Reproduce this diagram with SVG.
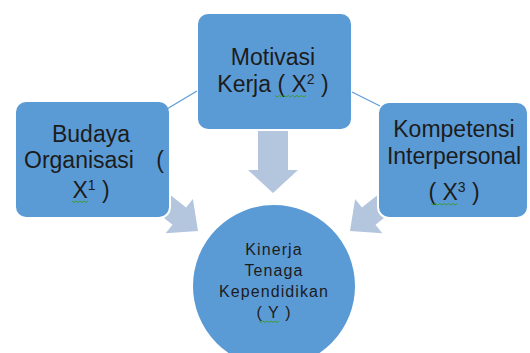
<svg xmlns="http://www.w3.org/2000/svg" width="530" height="353" viewBox="0 0 530 353">
<defs>
<style>
.box{fill:#5b9bd5;stroke:#ffffff;stroke-width:2}
.arrow{fill:#b4c5de}
.link{stroke:#5b9bd5;stroke-width:1.2;fill:none}
.t{font-family:"Liberation Sans",Arial,sans-serif;font-size:23px;fill:#1c1c1c;text-anchor:middle}
.tc{font-family:"Liberation Sans",Arial,sans-serif;font-size:16px;fill:#1c1c1c;text-anchor:middle;letter-spacing:1.1px}
.sup{font-size:14px}
.sq{stroke:#3d9b35;stroke-width:1;fill:none}
</style>
</defs>
<rect width="530" height="353" fill="#ffffff"/>
<g id="arrows">
<polygon class="arrow" points="139.3,170.3 186.1,207.5 192.9,198.9 198,231 165.7,233.3 172.5,224.7 125.7,187.5"/>
<polygon class="arrow" points="408.7,170.3 361.9,207.5 355.1,198.9 350,231 382.3,233.3 375.5,224.7 422.3,187.5"/>
<polygon class="arrow" points="258,120 288,120 288,170 298,170 273,193 248,170 258,170"/>
</g>
<g id="budaya">
<rect class="box" x="15" y="101" width="155" height="117" rx="11"/>
<text class="t" x="91" y="142">Budaya</text>
<text class="t"><tspan x="79" y="168">Organisasi</tspan><tspan x="160" y="168">(</tspan></text>
<text class="t" x="91" y="198">X<tspan class="sup" dy="-8">1</tspan><tspan dy="8"> )</tspan></text>
<path class="sq" d="M72,201 l2,1.5 l2,-1.5 l2,1.5 l2,-1.5 l2,1.5 l2,-1.5 l2,1.5 l2,-1.5"/>
</g>
<g id="motivasi">
<rect class="box" x="197" y="13" width="155" height="117" rx="11"/>
<text class="t" x="273" y="65">Motivasi</text>
<text class="t" x="273" y="92">Kerja ( X<tspan class="sup" dy="-8">2</tspan><tspan dy="8"> )</tspan></text>
<path class="sq" d="M275,95.5 l2.2,1.5 l2.2,-1.5 l2.2,1.5 l2.2,-1.5 l2.2,1.5 l2.2,-1.5 l2.2,1.5 l2.2,-1.5 l2.2,1.5 l2.2,-1.5 l2.2,1.5 l2.2,-1.5 l2.2,1.5 l2.2,-1.5"/>
</g>
<g id="kompetensi">
<rect class="box" x="378" y="102" width="150" height="116" rx="11"/>
<text class="t" x="454" y="137">Kompetensi</text>
<text class="t" x="454" y="164">Interpersonal</text>
<text class="t" x="454" y="200">( X<tspan class="sup" dy="-8">3</tspan><tspan dy="8"> )</tspan></text>
<path class="sq" d="M431,203.5 l2.2,1.5 l2.2,-1.5 l2.2,1.5 l2.2,-1.5 l2.2,1.5 l2.2,-1.5 l2.2,1.5 l2.2,-1.5 l2.2,1.5 l2.2,-1.5 l2.2,1.5 l2.2,-1.5"/>
</g>
<g id="kinerja">
<circle class="box" cx="274" cy="286" r="82"/>
<text class="tc" x="274" y="255">Kinerja</text>
<text class="tc" x="274" y="276">Tenaga</text>
<text class="tc" x="274" y="297">Kependidikan</text>
<text class="tc" x="274" y="318">( Y )</text>
<path class="sq" d="M259,321 l2,1.5 l2,-1.5 l2,1.5 l2,-1.5 l2,1.5 l2,-1.5 l2,1.5 l2,-1.5 l2,1.5 l2,-1.5"/>
</g>
<g id="connectors">
<line class="link" x1="135" y1="128" x2="197" y2="91"/>
<line class="link" x1="352" y1="92" x2="380" y2="106"/>
</g>
</svg>
